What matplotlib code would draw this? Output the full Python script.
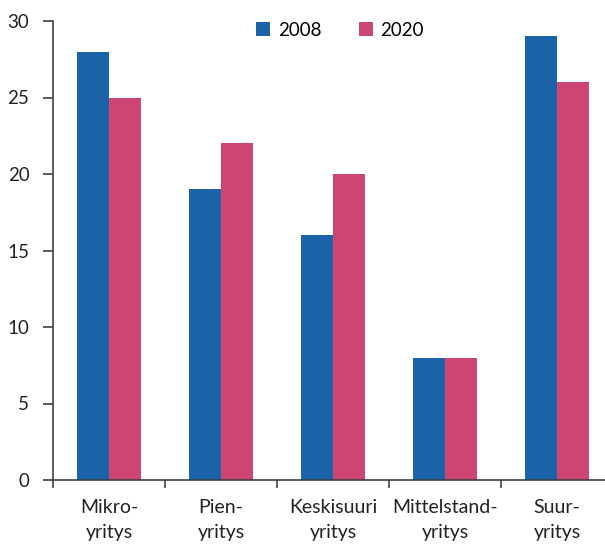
import numpy as np
import matplotlib
matplotlib.use('Agg')
import matplotlib.pyplot as plt

plt.rcParams['font.family'] = ['Lato', 'DejaVu Sans']

categories = ['Mikro-\nyritys', 'Pien-\nyritys', 'Keskisuuri\nyritys',
              'Mittelstand-\nyritys', 'Suur-\nyritys']
years = ['2008', '2020']
vals_2008 = [28, 19, 16, 8, 29]
vals_2020 = [25, 22, 20, 8, 26]

blue = '#1a63a8'
pink = '#cc4573'
axis_col = '#404040'

fig = plt.figure(figsize=(6.05, 5.45), dpi=100)
ax = fig.add_axes([53 / 605, 1 - 480 / 545, 552 / 605, 459 / 545])

x = np.arange(len(categories))
w = 0.286
ax.bar(x - w / 2, vals_2008, width=w, color=blue, label=years[0])
ax.bar(x + w / 2, vals_2020, width=w, color=pink, label=years[1])

ax.set_xlim(-0.5, -0.5 + 552 / 112)
ax.set_ylim(0, 30)
ax.set_yticks(range(0, 31, 5))

ax.set_xticks(x)
ax.set_xticklabels(categories, fontsize=14, color='#222222', linespacing=1.55)
ax.tick_params(axis='x', which='major', length=0, pad=14)
ax.set_xticks(np.arange(len(categories)) - 0.5, minor=True)
ax.tick_params(axis='x', which='minor', length=6, width=1.2, color=axis_col, direction='out')
ax.tick_params(axis='y', length=7, width=1.2, color=axis_col, labelsize=13.5,
               labelcolor='#222222', pad=10)

for s in ['top', 'right']:
    ax.spines[s].set_visible(False)
for s in ['left', 'bottom']:
    ax.spines[s].set_color(axis_col)
    ax.spines[s].set_linewidth(1.2)

ax.legend(loc='upper center', bbox_to_anchor=(0.52, 1.035), ncol=2, frameon=False,
          fontsize=13.5, handlelength=0.75, handleheight=0.75, columnspacing=2.0,
          handletextpad=0.4)

fig.savefig('out.png', dpi=100)
